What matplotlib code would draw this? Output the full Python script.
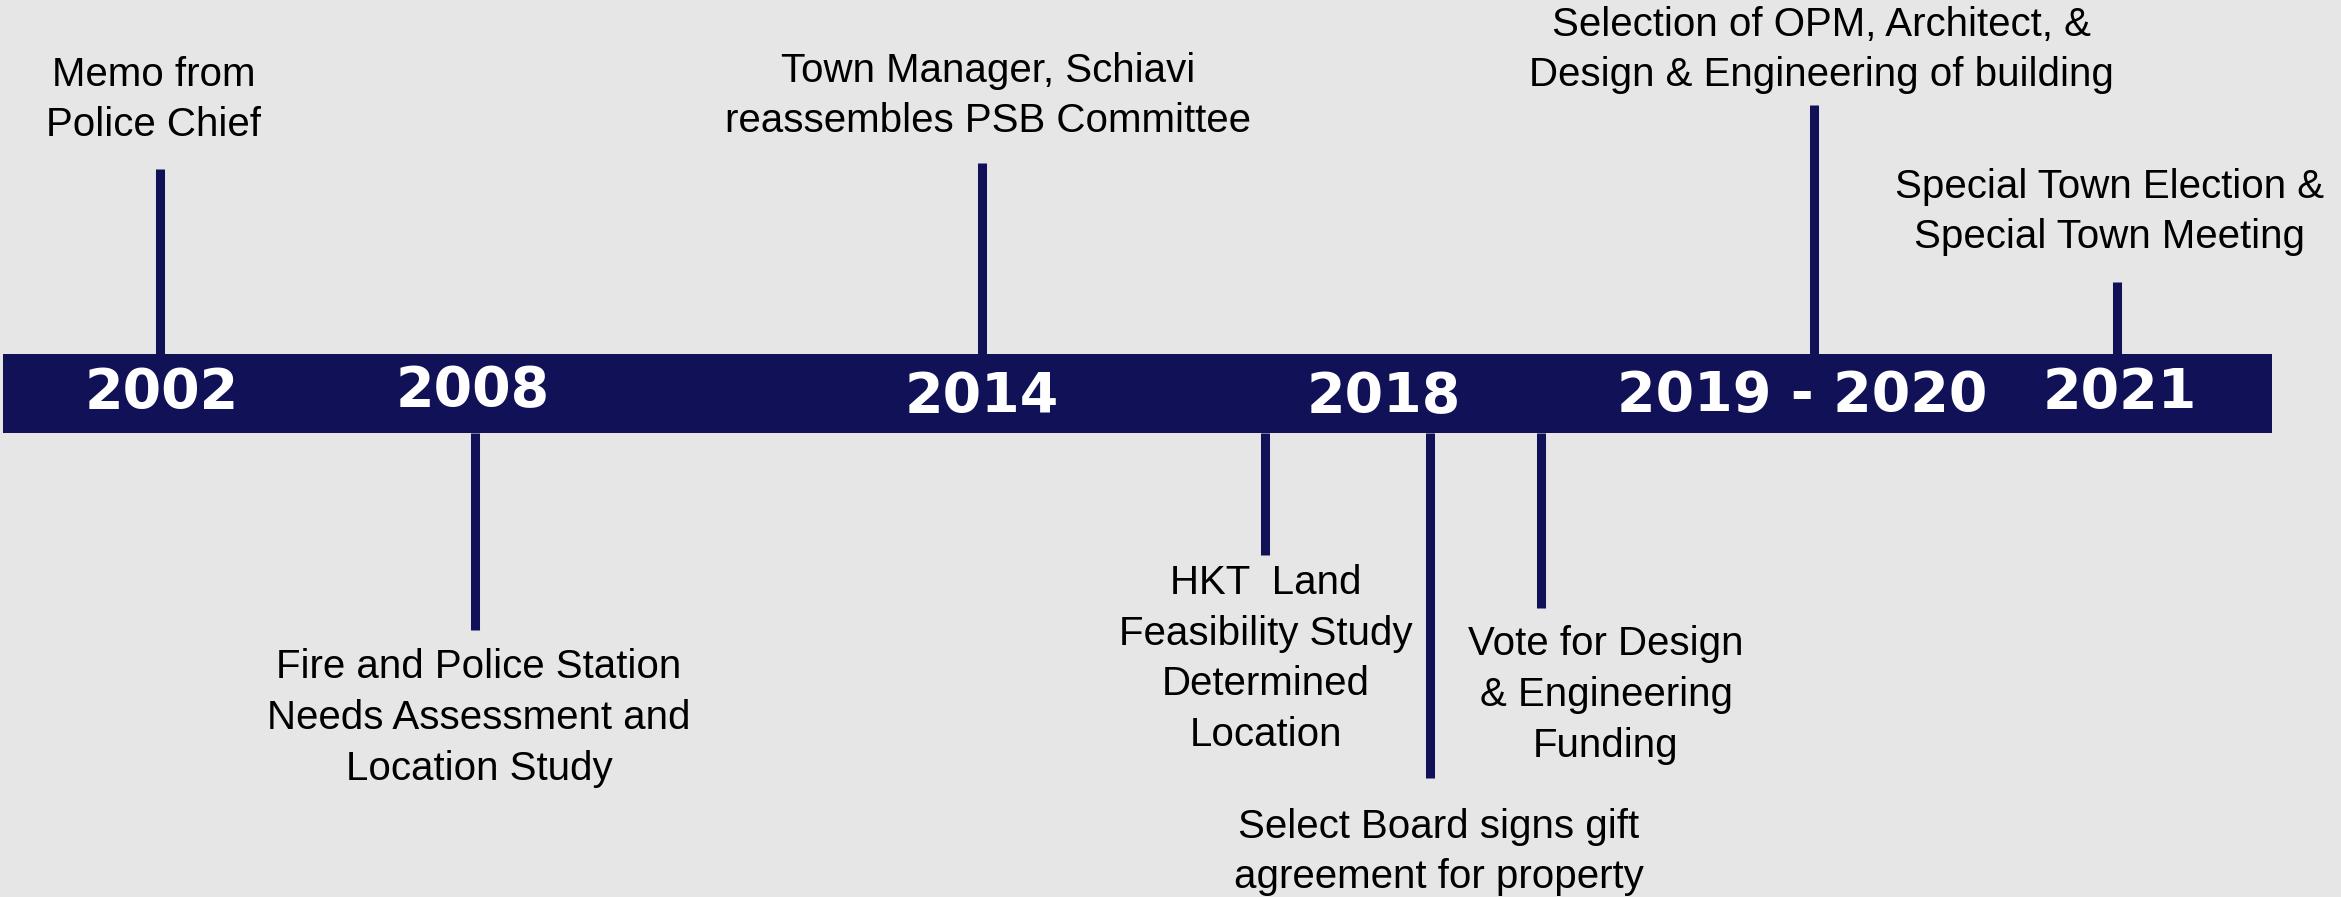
import matplotlib.pyplot as plt

# year markers on the bar
year_labels = ["2002", "2008", "2014", "2018", "2019 - 2020", "2021"]
year_x = [162, 473, 982, 1384, 1802, 2120]
year_y = [393, 391, 397, 397, 396, 393]

# events: text, stem position, stem end, label centre
event_text = [
    "Memo from\nPolice Chief",
    "Fire and Police Station\nNeeds Assessment and\nLocation Study",
    "Town Manager, Schiavi\nreassembles PSB Committee",
    "HKT  Land\nFeasibility Study\nDetermined\nLocation",
    "Select Board signs gift\nagreement for property",
    "Vote for Design\n& Engineering\nFunding",
    "Selection of OPM, Architect, &\nDesign & Engineering of building",
    "Special Town Election &\nSpecial Town Meeting",
]
event_x = [160, 475, 982, 1265, 1430, 1541, 1814, 2117]
event_side = ["up", "down", "up", "down", "down", "down", "up", "up"]
stem_end = [169, 630, 163, 555, 778, 608, 105, 282]
label_x = [154, 479, 988, 1266, 1439, 1606, 1821, 2110]
label_y = [100, 718, 96, 659, 852, 695, 50, 212]

navy = "#111158"
bg = "#e6e6e6"
bar_top, bar_bot = 354, 433

fig = plt.figure(figsize=(23.41, 8.97), dpi=100, facecolor=bg)
ax = fig.add_axes([0, 0, 1, 1])
ax.set_facecolor(bg)
ax.set_xlim(0, 2341)
ax.set_ylim(897, 0)
ax.axis("off")

# main timeline bar
ax.barh((bar_top + bar_bot) / 2, 2269, left=3, height=bar_bot - bar_top, color=navy)

# stems
for x, side, end in zip(event_x, event_side, stem_end):
    start = bar_top if side == "up" else bar_bot
    ax.vlines(x, start, end, color=navy, linewidth=6.5)

# event labels
for t, x, y in zip(event_text, label_x, label_y):
    ax.text(x, y, t, ha="center", va="center", fontsize=29, family="Liberation Sans",
            linespacing=1.42, color="black")

# years
for t, x, y in zip(year_labels, year_x, year_y):
    ax.text(x, y, t, ha="center", va="center", fontsize=40, family="DejaVu Sans",
            fontweight="bold", color="white")

plt.savefig("out.png", dpi=100, facecolor=bg)
plt.close()
